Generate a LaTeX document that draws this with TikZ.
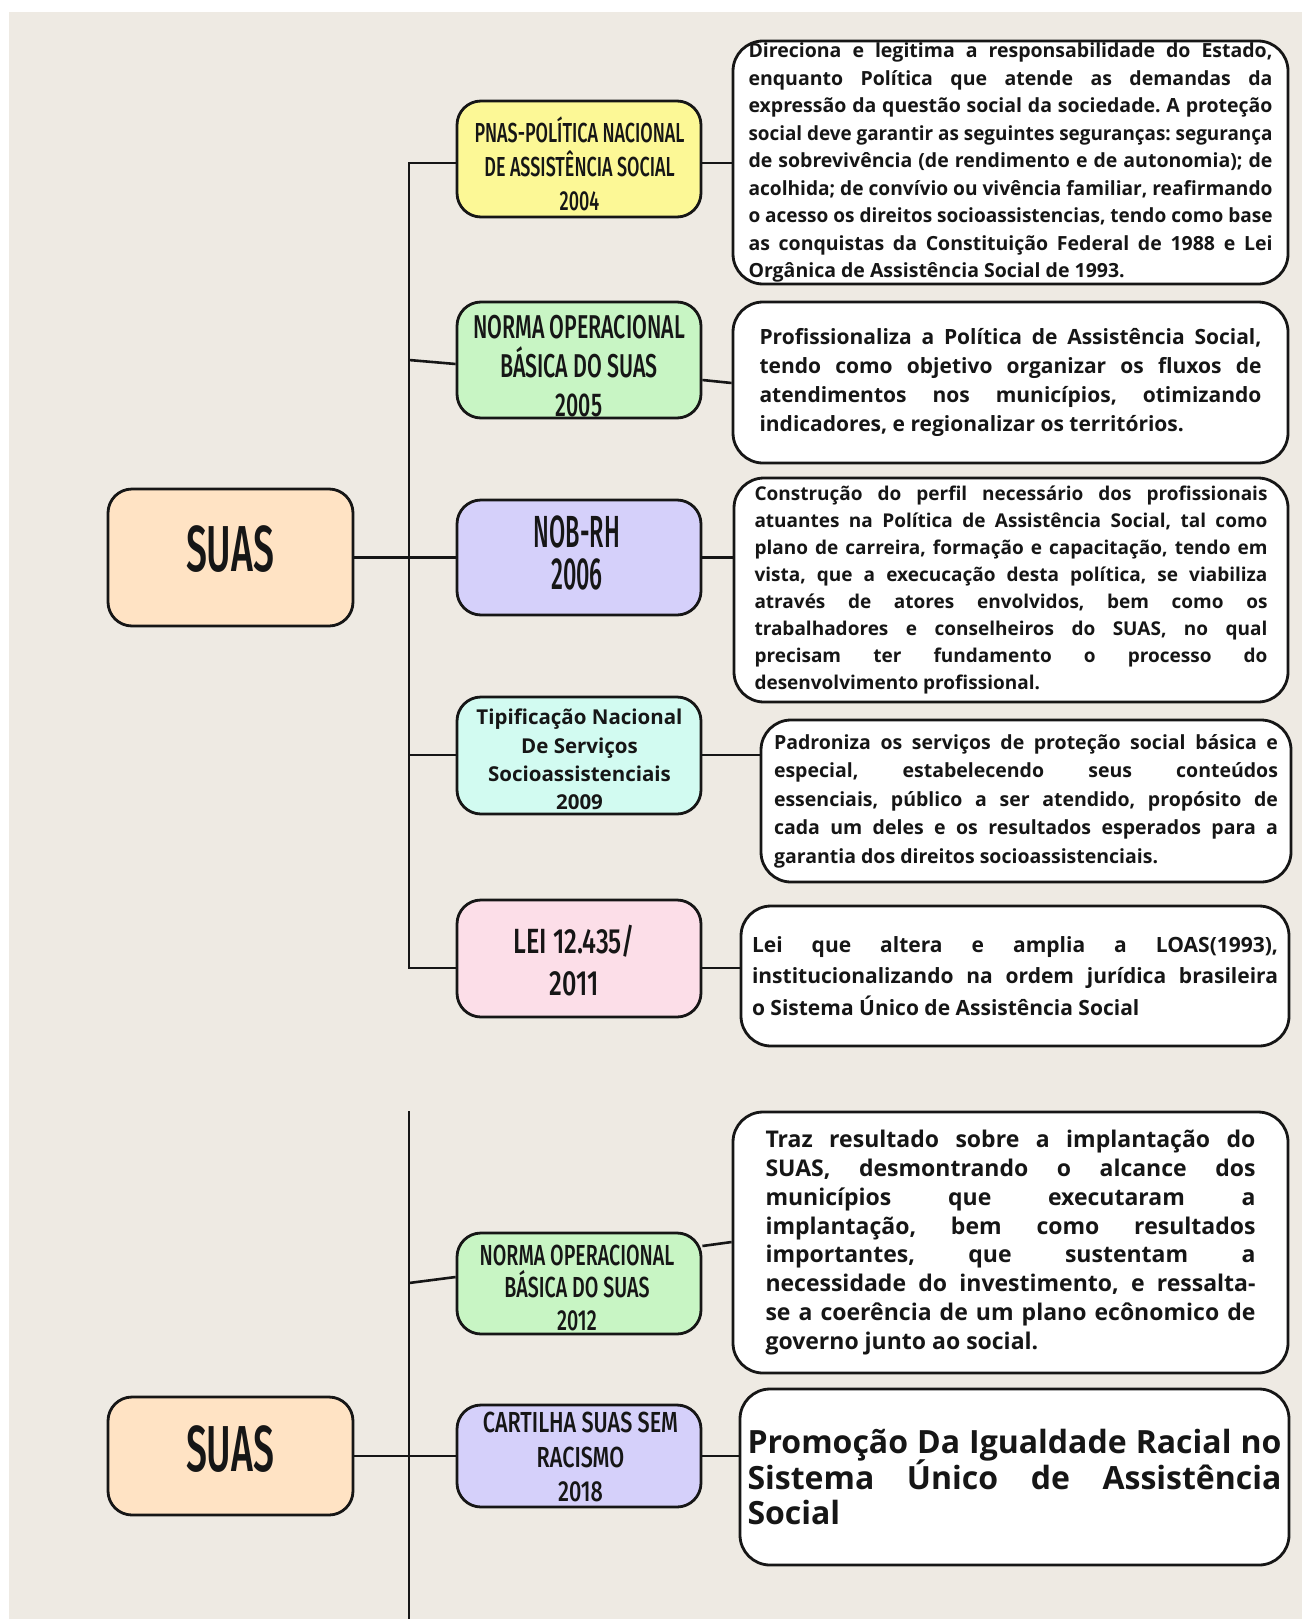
\documentclass[tikz,border=0pt]{standalone}
\usepackage{fontspec}
\usepackage{graphicx}
\usetikzlibrary{calc}
\newfontfamily\descfont{Open Sans}
\IfFontExistsTF{Fira Sans Medium}{\newfontfamily\lblfont{Fira Sans Medium}[FakeStretch=0.6]}{%
  \newfontfamily\lblfont{Fira Sans}[FakeStretch=0.6]}
\definecolor{bg}{RGB}{238,234,227}
\definecolor{cSuas}{RGB}{255,227,196}
\definecolor{cYel}{RGB}{252,248,150}
\definecolor{cGrn}{RGB}{200,245,196}
\definecolor{cPur}{RGB}{213,208,250}
\definecolor{cCyan}{RGB}{210,251,241}
\definecolor{cPink}{RGB}{252,222,232}
\definecolor{ink}{RGB}{22,22,22}
\setlength\parindent{0pt}
\setlength\parskip{0pt}
\frenchspacing
\newlength\jlw
\newlength\dw
\newcommand\jl[1]{\settowidth\jlw{#1}\ifdim\jlw>\dw\resizebox{\dw}{\height}{#1}\else\hbox to\dw{#1}\fi\par}
\newcommand\lastl[1]{\settowidth\jlw{#1}\ifdim\jlw>\dw\resizebox{\dw}{\height}{#1}\else\hbox{#1}\fi\par}
\newenvironment{dtext}[1]{\setlength\dw{#1}\begin{minipage}{#1}\lineskiplimit=-100pt\relax}{\end{minipage}}
\begin{document}
\begin{tikzpicture}[x=1pt,y=-1pt,
  box/.style={draw=ink, line width=2.8pt, rounded corners=24pt, inner sep=0pt, minimum width=244},
  desc/.style={draw=ink, fill=white, line width=2.8pt, rounded corners=30pt, inner sep=0pt, text=ink},
  conn/.style={draw=ink, line width=2.6pt},
  lbl/.style={inner sep=0pt, align=center, text=ink, transform shape}]
\useasboundingbox (0,0) rectangle (1302,1619);
\fill[white] (0,0) rectangle (1302,1619);
\fill[bg] (9,12) rectangle (1302,1619);
% colored boxes
\node[box, fill=cSuas, minimum width=245, minimum height=137] (suas1) at (230.5,557.5) {};
\node[box, fill=cSuas, minimum width=245, minimum height=118] (suas2) at (230.5,1456) {};
\node[box, fill=cYel, minimum height=116] (pnas) at (579,159) {};
\node[box, fill=cGrn, minimum height=116] (n05) at (579,360) {};
\node[box, fill=cPur, minimum height=115] (nob) at (579,557.5) {};
\node[box, fill=cCyan, minimum height=117] (tip) at (579,755.5) {};
\node[box, fill=cPink, minimum height=117] (lei) at (579,958.5) {};
\node[box, fill=cGrn, minimum height=101] (n12) at (579,1283.5) {};
\node[box, fill=cPur, minimum height=102] (cart) at (579,1456) {};
% labels
\node[lbl, xscale=0.96, font=\lblfont\fontsize{65}{65}\selectfont] (tsuas1) at (230,549) {SUAS};
\node[lbl, xscale=0.96, font=\lblfont\fontsize{65}{65}\selectfont] (tsuas2) at (230,1449) {SUAS};
\node[lbl, xscale=1.09, font=\lblfont\fontsize{27.5}{34}\selectfont] (tpnas) at (579.5,164) {PNAS-POLÍTICA NACIONAL\\DE ASSISTÊNCIA SOCIAL\\2004};
\node[lbl, xscale=1.08, font=\lblfont\fontsize{33}{39}\selectfont] (tn05) at (579,366) {NORMA OPERACIONAL\\BÁSICA DO SUAS\\2005};
\node[lbl, xscale=0.87, font=\lblfont\fontsize{45}{42}\selectfont] (tnob) at (577,553) {NOB-RH\\2006};
\node[lbl, font=\descfont\bfseries\fontsize{20.5}{28.3}\selectfont] (ttip) at (579.5,759.5) {Tipificação Nacional\\De Serviços\\Socioassistenciais\\2009};
\node[lbl, xscale=1.2, font=\lblfont\fontsize{35}{42}\selectfont] (tlei) at (574,961) {LEI 12.435/\\2011};
\node[lbl, xscale=1.13, font=\lblfont\fontsize{29}{32.5}\selectfont] (tn12) at (577,1287.5) {NORMA OPERACIONAL\\BÁSICA DO SUAS\\2012};
\node[lbl, xscale=1.24, font=\lblfont\fontsize{29}{34.5}\selectfont] (tcart) at (580.5,1457) {CARTILHA SUAS SEM\\RACISMO\\2018};
% description boxes
\node[desc, minimum width=555, minimum height=243, font=\descfont\bfseries\fontsize{19.5}{27.5}\selectfont] (d1) at (1010.5,162.5) {\begin{dtext}{524pt}%
\jl{Direciona e legitima a responsabilidade do Estado,}
\jl{enquanto Política que atende as demandas da}
\jl{expressão da questão social da sociedade. A proteção}
\jl{social deve garantir as seguintes seguranças: segurança}
\jl{de sobrevivência (de rendimento e de autonomia); de}
\jl{acolhida; de convívio ou vivência familiar, reafirmando}
\jl{o acesso os direitos socioassistencias, tendo como base}
\jl{as conquistas da Constituição Federal de 1988 e Lei}
\lastl{Orgânica de Assistência Social de 1993.}\end{dtext}};
\node[desc, minimum width=555, minimum height=161, font=\descfont\bfseries\fontsize{21}{29.3}\selectfont] (d2) at (1010.5,382.5) {\begin{dtext}{502pt}%
\jl{Profissionaliza a Política de Assistência Social,}
\jl{tendo como objetivo organizar os fluxos de}
\jl{atendimentos nos municípios, otimizando}
\lastl{indicadores, e regionalizar os territórios.}\end{dtext}};
\node[desc, minimum width=554, minimum height=224, font=\descfont\bfseries\fontsize{19}{27.1}\selectfont] (d3) at (1011,590) {\begin{dtext}{513pt}%
\jl{Construção do perfil necessário dos profissionais}
\jl{atuantes na Política de Assistência Social, tal como}
\jl{plano de carreira, formação e capacitação, tendo em}
\jl{vista, que a execucação desta política, se viabiliza}
\jl{através de atores envolvidos, bem como os}
\jl{trabalhadores e conselheiros do SUAS, no qual}
\jl{precisam ter fundamento o processo do}
\lastl{desenvolvimento profissional.}\end{dtext}};
\node[desc, minimum width=530, minimum height=162, font=\descfont\bfseries\fontsize{19.5}{28.5}\selectfont] (d4) at (1026,801) {\begin{dtext}{504pt}%
\jl{Padroniza os serviços de proteção social básica e}
\jl{especial, estabelecendo seus conteúdos}
\jl{essenciais, público a ser atendido, propósito de}
\jl{cada um deles e os resultados esperados para a}
\lastl{garantia dos direitos socioassistenciais.}\end{dtext}};
\node[desc, minimum width=548, minimum height=140, font=\descfont\bfseries\fontsize{21}{31.5}\selectfont] (d5) at (1015,976) {\begin{dtext}{526pt}%
\jl{Lei que altera e amplia a LOAS(1993),}
\jl{institucionalizando na ordem jurídica brasileira}
\lastl{o Sistema Único de Assistência Social}\end{dtext}};
\node[desc, minimum width=555, minimum height=261, font=\descfont\bfseries\fontsize{23}{28.9}\selectfont] (d6) at (1010.5,1242.5) {\begin{dtext}{490pt}%
\jl{Traz resultado sobre a implantação do}
\jl{SUAS, desmontrando o alcance dos}
\jl{municípios que executaram a}
\jl{implantação, bem como resultados}
\jl{importantes, que sustentam a}
\jl{necessidade do investimento, e ressalta-}
\jl{se a coerência de um plano ecônomico de}
\lastl{governo junto ao social.}\end{dtext}};
\node[desc, minimum width=549, minimum height=176, font=\descfont\bfseries\fontsize{32}{35.5}\selectfont] (d7) at (1014.5,1477) {\begin{dtext}{534pt}%
\jl{Promoção Da Igualdade Racial no}
\jl{Sistema Único de Assistência}
\lastl{Social}\end{dtext}};
% connectors, first section
\coordinate (j1) at (409,163);
\coordinate (j2) at (409,360);
\coordinate (j4) at (409,755);
\coordinate (j5) at (409,968);
\draw[conn] (j1 -| pnas.west) -- (j1) -- (j5) -- (j5 -| lei.west);
\draw[conn] (j2) -- ($(n05.west)+(0,4)$);
\draw[conn] (suas1) -- (nob);
\draw[conn] (j4) -- (j4 -| tip.west);
\draw[conn] (pnas.east |- j1) -- (j1 -| d1.west);
\draw[conn] ($(n05.east)+(0,20)$) -- ($(d2.west)+(0,0.5)$);
\draw[conn] (nob.east) -- (nob.east -| d3.west);
\draw[conn] (tip.east |- j4) -- (j4 -| d4.west);
\draw[conn] (lei.east |- j5) -- (j5 -| d5.west);
% second section
\coordinate (v2t) at (409,1111);
\coordinate (v2b) at (409,1619);
\coordinate (j6) at (409,1283);
\draw[conn] (v2t) -- (v2b);
\draw[conn] (j6) -- ($(n12.west)+(0,-6.5)$);
\draw[conn] ($(n12.east)+(0,-37.5)$) -- ($(d6.west)+(0,-0.5)$);
\draw[conn] (suas2) -- (cart);
\draw[conn] (cart.east) -- (cart.east -| d7.west);
\end{tikzpicture}
\end{document}
